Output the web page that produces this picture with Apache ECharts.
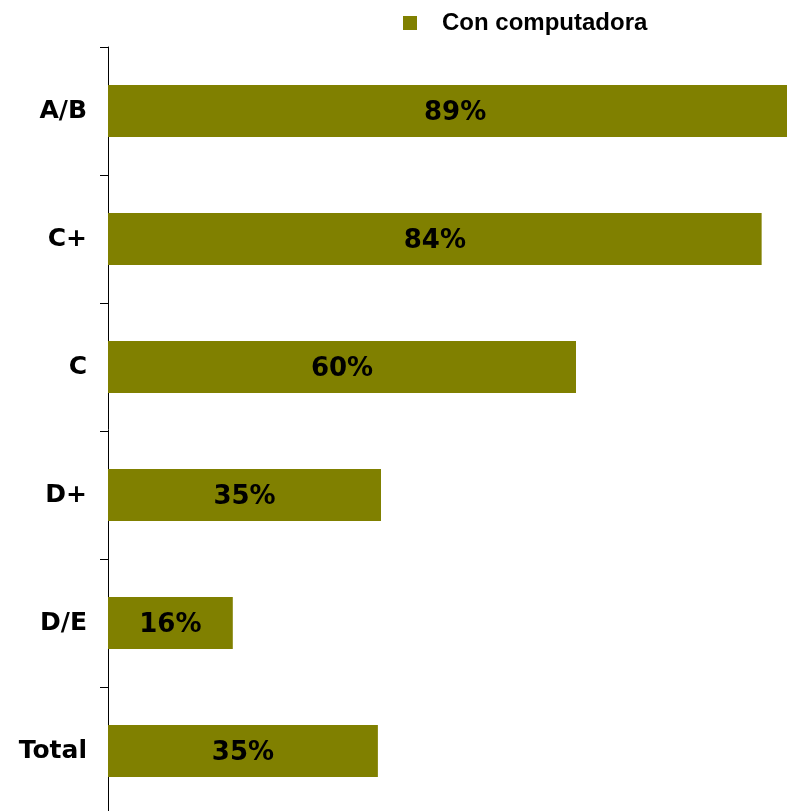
<!DOCTYPE html>
<html>
<head>
<meta charset="utf-8">
<script src="https://cdn.jsdelivr.net/npm/echarts@6/dist/echarts.min.js"></script>
<style>html,body{margin:0;padding:0;background:#fff}#c{width:787px;height:811px}</style>
</head>
<body>
<div id="c"></div>
<script>
const categories = ['A/B', 'C+', 'C', 'D+', 'D/E', 'Total'];
const seriesName = 'Con computadora';
const values = [89, 83.8, 60, 35, 16, 34.6];

const chart = echarts.init(document.getElementById('c'), null, {renderer: 'canvas'});
chart.setOption({
  animation: false,
  backgroundColor: '#ffffff',
  legend: {
    data: [seriesName],
    left: 398,
    top: 6,
    padding: 5,
    icon: 'rect',
    itemWidth: 14,
    itemHeight: 14,
    textStyle: {
      fontFamily: 'Liberation Sans',
      fontWeight: 'bold',
      fontSize: 24,
      color: '#000',
      padding: [0, 0, 0, 20]
    }
  },
  grid: {left: 108, top: 47, width: 780, height: 768, containLabel: false, outerBoundsMode: 'none'},
  xAxis: {
    type: 'value', min: 0, max: 100,
    show: false
  },
  yAxis: {
    type: 'category',
    data: categories,
    inverse: true,
    axisLine: {show: true, lineStyle: {color: '#000', width: 1}},
    axisTick: {show: true, length: 8, lineStyle: {color: '#000', width: 1}},
    axisLabel: {
      margin: 21,
      fontFamily: 'DejaVu Sans',
      fontWeight: 'bold',
      fontSize: 25,
      color: '#000',
      padding: [4, 0, 0, 0]
    },
    splitLine: {show: false}
  },
  series: [{
    name: seriesName,
    type: 'bar',
    data: values,
    barWidth: 52,
    clip: false,
    itemStyle: {color: '#808000'},
    label: {
      show: true,
      position: 'inside',
      offset: [0, 2],
      formatter: p => Math.round(p.value) + '%',
      fontFamily: 'DejaVu Sans',
      fontWeight: 'bold',
      fontSize: 26,
      color: '#000'
    }
  }]
});
</script>
</body>
</html>
